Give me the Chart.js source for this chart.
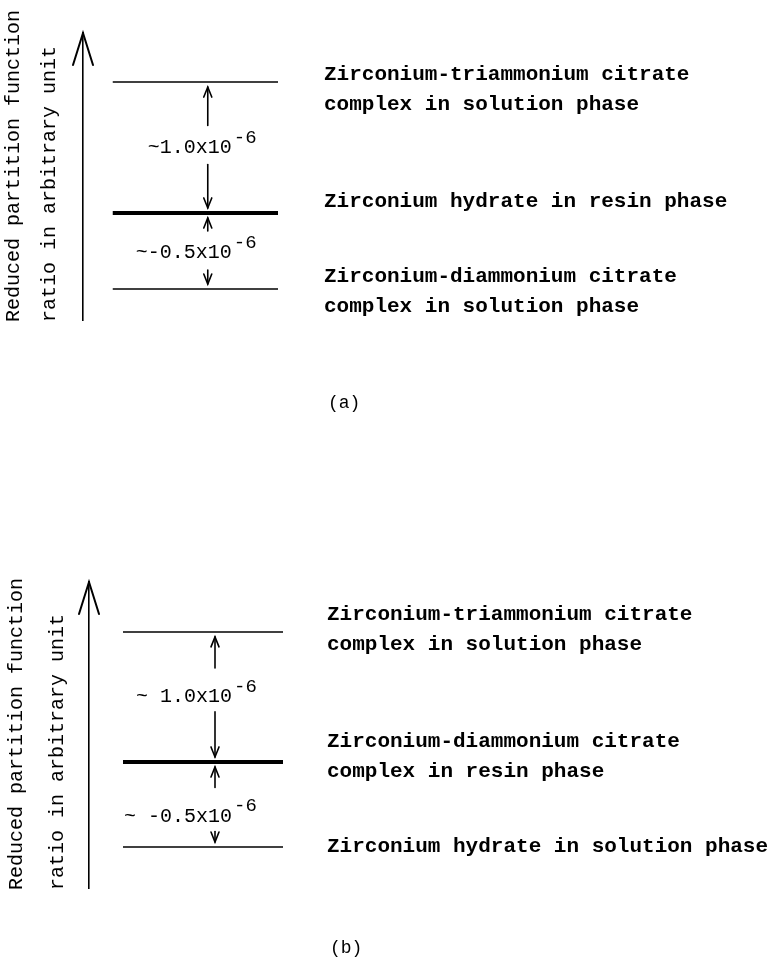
<!DOCTYPE html>
<html>
<head>
<meta charset="utf-8">
<script src="https://cdn.jsdelivr.net/npm/chart.js@4.4.1/dist/chart.umd.min.js"></script>
<style>
    html, body { margin: 0; padding: 0; background: #fff; }
    #wrap { position: relative; width: 774px; height: 961px; }
    canvas { position: absolute; left: 0; }
    #chart-a { top: 0; }
    #chart-b { top: 480px; }
</style>
</head>
<body>
<div id="wrap">
    <canvas id="chart-a" width="774" height="480"></canvas>
    <canvas id="chart-b" width="774" height="481"></canvas>
</div>
<script>
// level heights, arbitrary unit (axis runs 0..10)
const levelsA = [8.29, 3.73, 1.08];
const levelsB = [8.37, 4.12, 1.34];
const levelSpan = [0, 1];

const namesA = [
    ['Zirconium-triammonium citrate', 'complex in solution phase'],
    ['Zirconium hydrate in resin phase'],
    ['Zirconium-diammonium citrate', 'complex in solution phase']
];
const namesB = [
    ['Zirconium-triammonium citrate', 'complex in solution phase'],
    ['Zirconium-diammonium citrate', 'complex in resin phase'],
    ['Zirconium hydrate in solution phase']
];
const gapsA = ['~1.0x10', '~-0.5x10'];
const gapsB = ['~ 1.0x10', '~ -0.5x10'];
const gapExponent = '-6';
const axisTitle = ['Reduced partition function', 'ratio in arbitrary unit'];

const MONO = '"Liberation Mono", "Courier New", monospace';

function line(ctx, x0, y0, x1, y1) {
    ctx.beginPath();
    ctx.moveTo(x0, y0);
    ctx.lineTo(x1, y1);
    ctx.stroke();
}

// vertical arrow from tail y0 to tip y1
function arrow(ctx, x, y0, y1, len, half) {
    const dir = y1 < y0 ? 1 : -1;
    line(ctx, x, y0, x, y1);
    ctx.beginPath();
    ctx.moveTo(x - half, y1 + dir * len);
    ctx.lineTo(x, y1);
    ctx.lineTo(x + half, y1 + dir * len);
    ctx.stroke();
}

const diagramPlugin = {
    id: 'diagram',
    afterDraw(chart, args, opts) {
        const ctx = chart.ctx;
        const area = chart.chartArea;
        const xs = chart.scales.x;
        const ys = chart.scales.y;
        ctx.save();
        ctx.strokeStyle = '#000';
        ctx.fillStyle = '#000';
        ctx.lineCap = 'round';

        // axis arrow head
        ctx.lineWidth = 2;
        arrow(ctx, area.left, area.top + 2, area.top, 32, 10);

        // axis title, rotated
        ctx.font = '20px ' + MONO;
        ctx.textBaseline = 'middle';
        ctx.textAlign = 'left';
        opts.title.forEach((t, i) => {
            ctx.save();
            ctx.translate(area.left + opts.titleX[i], area.bottom + opts.titleBottom);
            ctx.rotate(-Math.PI / 2);
            ctx.fillText(t, 0, 0);
            ctx.restore();
        });

        // level names
        ctx.font = 'bold 21px ' + MONO;
        opts.levels.forEach((lvl, i) => {
            const names = opts.names[i];
            const cy = ys.getPixelForValue(lvl) + opts.nameNudge[i];
            names.forEach((n, j) => {
                const y = cy + (j - (names.length - 1) / 2) * 30;
                ctx.fillText(n, area.right + opts.nameGap, y);
            });
        });

        // gap arrows and values
        const ax = xs.getPixelForValue(0.575);
        ctx.lineWidth = 1.6;
        for (let i = 0; i < opts.levels.length - 1; i++) {
            const top = ys.getPixelForValue(opts.levels[i]);
            const bot = ys.getPixelForValue(opts.levels[i + 1]);
            const ly = (top + bot) / 2 + opts.gapNudge[i];
            arrow(ctx, ax, ly - opts.tailUp, top + 5, 10, 4);
            arrow(ctx, ax, ly + opts.tailDown, bot - 5, 10, 4);

            ctx.font = '20px ' + MONO;
            ctx.textAlign = 'right';
            ctx.fillText(opts.gaps[i], ax + opts.gapRight, ly);
            ctx.textAlign = 'left';
            ctx.font = '19px ' + MONO;
            ctx.fillText(gapExponent, ax + opts.gapRight + 2, ly - 10);
        }

        // panel caption
        ctx.font = '18px ' + MONO;
        ctx.textAlign = 'left';
        ctx.fillText(opts.caption, opts.captionX, opts.captionY);
        ctx.restore();
    }
};

function buildPanel(el, levels, cfg) {
    const widths = levels.map((_, i) => i === 1 ? 4 : 1.5);
    return new Chart(document.querySelector(el), {
        type: 'line',
        data: {
            datasets: levels.map((lvl, i) => ({
                data: levelSpan.map(x => ({ x: x, y: lvl })),
                borderColor: '#000',
                borderWidth: widths[i],
                pointRadius: 0,
                clip: false
            }))
        },
        options: {
            responsive: false,
            animation: false,
            events: [],
            layout: { padding: cfg.padding },
            scales: {
                x: { type: 'linear', display: false, min: cfg.xMin, max: 1 },
                y: {
                    type: 'linear',
                    min: 0,
                    max: 10,
                    ticks: { display: false },
                    grid: { display: false, drawTicks: false },
                    border: { display: true, color: '#000', width: 1.6 }
                }
            },
            plugins: {
                legend: { display: false },
                tooltip: { enabled: false },
                diagram: Object.assign({ levels: levels, title: axisTitle }, cfg.diagram)
            }
        },
        plugins: [diagramPlugin]
    });
}

buildPanel('#chart-a', levelsA, {
    padding: { left: 83, right: 496, top: 33, bottom: 160 },
    xMin: -0.18,
    diagram: {
        names: namesA,
        nameNudge: [8, -11, 3],
        nameGap: 46,
        gaps: gapsA,
        gapNudge: [0, 2],
        tailUp: 22,
        tailDown: 17,
        gapRight: 24,
        titleX: [-69, -33],
        titleBottom: 2,
        caption: '(a)',
        captionX: 328,
        captionY: 403
    }
});

buildPanel('#chart-b', levelsB, {
    padding: { left: 89, right: 491, top: 102, bottom: 73 },
    xMin: -0.2125,
    diagram: {
        names: namesB,
        nameNudge: [-2, -5, 0],
        nameGap: 44,
        gaps: gapsB,
        gapNudge: [0, 12],
        tailUp: 29,
        tailDown: 15,
        gapRight: 17,
        titleX: [-72, -31],
        titleBottom: 2,
        caption: '(b)',
        captionX: 330,
        captionY: 468
    }
});
</script>
</body>
</html>
